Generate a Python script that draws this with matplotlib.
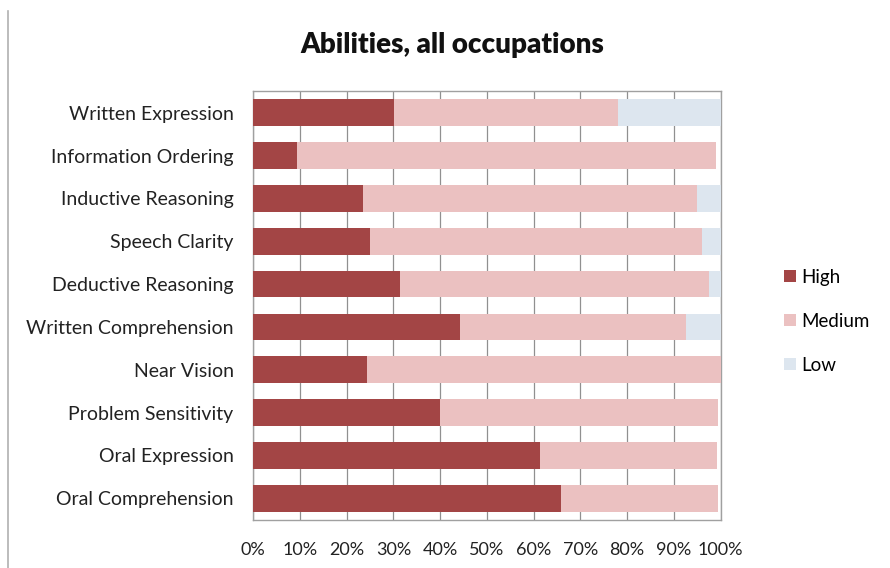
import matplotlib.pyplot as plt
from matplotlib.lines import Line2D
import numpy as np

plt.rcParams['font.family'] = ['Lato', 'DejaVu Sans']

abilities = ["Written Expression", "Information Ordering", "Inductive Reasoning",
             "Speech Clarity", "Deductive Reasoning", "Written Comprehension",
             "Near Vision", "Problem Sensitivity", "Oral Expression",
             "Oral Comprehension"]
high = [30.1, 9.5, 23.5, 25.0, 31.4, 44.2, 24.4, 40.0, 61.3, 65.9]
medium = [48.0, 89.5, 71.5, 71.0, 66.2, 48.3, 75.6, 59.4, 38.0, 33.5]
low = [21.9, 0.0, 5.0, 4.0, 2.4, 7.5, 0.0, 0.0, 0.0, 0.0]

red = "#a34545"
pink = "#ebc1c1"
blue = "#dde6ef"

fig = plt.figure(figsize=(8.9, 5.68), dpi=100)
ax = fig.add_axes([0.2843, 0.0850, 0.5255, 0.7543])

y = np.arange(len(abilities))
h = np.array(high)
m = np.array(medium)
l = np.array(low)
ax.barh(y, h, height=0.62, color=red, label="High", zorder=3)
ax.barh(y, m, left=h, height=0.62, color=pink, label="Medium", zorder=3)
ax.barh(y, l, left=h + m, height=0.62, color=blue, label="Low", zorder=3)

ax.set_xlim(0, 100)
ax.set_ylim(len(abilities) - 0.5, -0.5)
ax.set_xticks(np.arange(0, 101, 10))
ax.set_xticklabels([f"{v}%" for v in range(0, 101, 10)], fontsize=13)
ax.set_yticks(y)
ax.set_yticklabels(abilities, fontsize=14)
ax.tick_params(axis="both", length=0, colors="#222222")
ax.tick_params(axis="x", pad=16)
ax.tick_params(axis="y", pad=14)
ax.grid(axis="x", color="#909090", linewidth=0.9, zorder=0)
for s in ax.spines.values():
    s.set_color("#a0a0a0")
    s.set_linewidth(1)

fig.text(0.508, 0.92, "Abilities, all occupations", ha="center", va="center",
         fontsize=20, fontweight="heavy", color="#111111")

leg = ax.legend(loc="center left", bbox_to_anchor=(1.1, 0.463), frameon=False,
                fontsize=13.5, handlelength=0.6, handleheight=0.6,
                labelspacing=1.45, handletextpad=0.3)

# thin grey rule at the left edge of the screenshot
fig.add_artist(Line2D([0.009, 0.009], [0.0, 0.98], color="#b0b0b0",
                      linewidth=1.2, transform=fig.transFigure))

fig.savefig("out.png", dpi=100)
